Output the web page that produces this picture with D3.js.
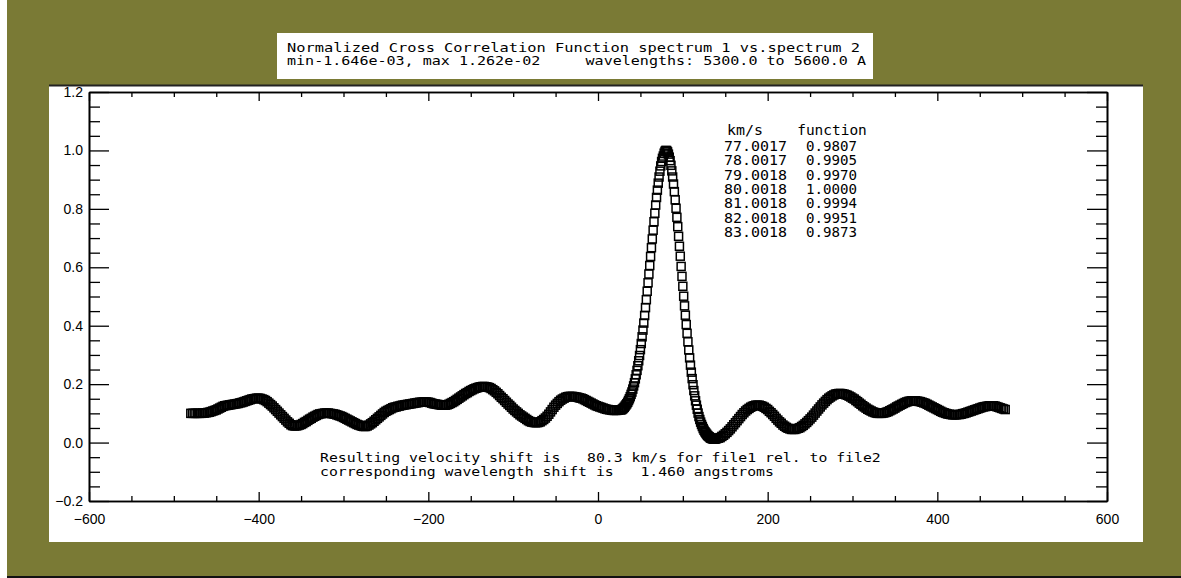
<!DOCTYPE html>
<html>
<head>
<meta charset="utf-8">
<script src="https://cdn.jsdelivr.net/npm/d3@7"></script>
<style>
  html, body { margin: 0; padding: 0; background: #ffffff; }
  svg { display: block; }
  .mono { font-family: "DejaVu Sans Mono", "Liberation Mono", monospace; }
  .mono text { white-space: pre; }
  .tick text { font-family: "Liberation Sans", Arial, sans-serif; font-size: 14px; fill: #000; }
</style>
</head>
<body>
<svg id="chart" width="1181" height="578"></svg>
<script>
// ---------------- data ----------------
const titleLines = [
  "Normalized Cross Correlation Function spectrum 1 vs.spectrum 2",
  "min-1.646e-03, max 1.262e-02     wavelengths: 5300.0 to 5600.0 A"
];
const resultLines = [
  "Resulting velocity shift is   80.3 km/s for file1 rel. to file2",
  "corresponding wavelength shift is   1.460 angstroms"
];
const tableHeader = ["km/s", "function"];
const tableVel = ["77.0017", "78.0017", "79.0018", "80.0018", "81.0018", "82.0018", "83.0018"];
const tableFunc = ["0.9807", "0.9905", "0.9970", "1.0000", "0.9994", "0.9951", "0.9873"];

const xMajorTicks = [-600, -400, -200, 0, 200, 400, 600];
const yMajorTicks = [-0.2, 0.0, 0.2, 0.4, 0.6, 0.8, 1.0, 1.2];

// velocity grid (km/s) of each segment: start, step
const leftStart = -480, leftStep = 2;
const peakStart = 27, peakStep = 1;
const rightStart = 142, rightStep = 2;

// correlation values
const leftValues = [
  0.100,0.100,0.100,0.100,0.100,0.100,0.100,0.101,0.101,0.102,
  0.103,0.104,0.106,0.108,0.110,0.112,0.115,0.118,0.121,0.124,
  0.126,0.127,0.128,0.129,0.130,0.131,0.132,0.133,0.134,0.136,
  0.137,0.139,0.141,0.143,0.145,0.147,0.149,0.150,0.151,0.152,
  0.152,0.151,0.149,0.147,0.144,0.140,0.135,0.130,0.125,0.119,
  0.113,0.107,0.101,0.095,0.089,0.083,0.077,0.071,0.066,0.061,
  0.058,0.057,0.057,0.058,0.060,0.062,0.065,0.069,0.072,0.076,
  0.080,0.083,0.087,0.090,0.093,0.096,0.098,0.099,0.100,0.101,
  0.101,0.101,0.100,0.099,0.098,0.097,0.095,0.093,0.091,0.089,
  0.086,0.083,0.080,0.077,0.074,0.071,0.068,0.065,0.062,0.060,
  0.058,0.056,0.055,0.055,0.057,0.060,0.064,0.068,0.073,0.078,
  0.083,0.088,0.093,0.098,0.103,0.107,0.110,0.113,0.116,0.119,
  0.121,0.122,0.124,0.125,0.127,0.128,0.129,0.130,0.131,0.132,
  0.133,0.134,0.135,0.136,0.137,0.138,0.138,0.139,0.139,0.139,
  0.138,0.137,0.135,0.133,0.132,0.131,0.130,0.129,0.128,0.128,
  0.128,0.129,0.131,0.134,0.137,0.140,0.144,0.148,0.152,0.156,
  0.160,0.164,0.168,0.171,0.175,0.178,0.181,0.184,0.186,0.188,
  0.190,0.191,0.192,0.192,0.191,0.190,0.188,0.185,0.181,0.177,
  0.172,0.167,0.161,0.155,0.150,0.144,0.138,0.132,0.127,0.121,
  0.115,0.110,0.105,0.100,0.095,0.091,0.087,0.083,0.079,0.075,
  0.072,0.070,0.069,0.068,0.068,0.069,0.071,0.075,0.079,0.084,
  0.090,0.097,0.105,0.113,0.121,0.128,0.134,0.140,0.145,0.149,
  0.152,0.155,0.157,0.158,0.158,0.158,0.157,0.156,0.155,0.153,
  0.152,0.150,0.147,0.144,0.141,0.138,0.135,0.132,0.129,0.126,
  0.124,0.122,0.120,0.118,0.116,0.114,0.113,0.112,0.111,0.110,
  0.110,0.110,0.111,0.112
];
const peakValues = [
  0.112,0.113,0.115,0.118,0.121,0.125,0.129,0.133,0.138,0.144,
  0.150,0.157,0.165,0.173,0.183,0.194,0.205,0.218,0.232,0.247,
  0.263,0.280,0.298,0.318,0.339,0.362,0.385,0.409,0.435,0.462,
  0.489,0.518,0.547,0.577,0.606,0.637,0.667,0.697,0.727,0.756,
  0.785,0.813,0.839,0.864,0.888,0.909,0.929,0.947,0.962,0.973,
  0.9807,0.9905,0.9970,1.0000,0.9994,0.9951,0.9873,0.977,0.965,0.949,
  0.930,0.909,0.885,0.859,0.831,0.802,0.771,0.739,0.706,0.672,
  0.638,0.603,0.569,0.535,0.501,0.468,0.436,0.404,0.374,0.345,
  0.317,0.290,0.265,0.241,0.219,0.198,0.178,0.160,0.143,0.128,
  0.114,0.101,0.089,0.079,0.070,0.062,0.055,0.048,0.042,0.037,
  0.033,0.029,0.025,0.022,0.020,0.017,0.015,0.014,0.013,0.012,
  0.012,0.012,0.013,0.014
];
const rightValues = [
  0.015,0.017,0.021,0.025,0.030,0.035,0.041,0.047,0.054,0.061,
  0.068,0.075,0.082,0.089,0.096,0.102,0.108,0.113,0.117,0.121,
  0.124,0.126,0.128,0.128,0.128,0.126,0.124,0.121,0.117,0.113,
  0.107,0.102,0.096,0.090,0.083,0.077,0.071,0.066,0.060,0.056,
  0.052,0.049,0.047,0.045,0.045,0.045,0.047,0.049,0.051,0.055,
  0.059,0.064,0.069,0.075,0.081,0.087,0.094,0.101,0.108,0.115,
  0.122,0.129,0.135,0.141,0.147,0.152,0.156,0.160,0.163,0.166,
  0.167,0.168,0.168,0.167,0.166,0.164,0.162,0.159,0.156,0.152,
  0.149,0.144,0.140,0.135,0.131,0.126,0.122,0.118,0.114,0.111,
  0.108,0.105,0.103,0.101,0.100,0.100,0.100,0.101,0.102,0.104,
  0.106,0.109,0.112,0.115,0.118,0.122,0.125,0.128,0.131,0.134,
  0.137,0.139,0.141,0.142,0.143,0.143,0.143,0.142,0.141,0.140,
  0.138,0.136,0.134,0.131,0.128,0.125,0.122,0.119,0.116,0.113,
  0.110,0.107,0.104,0.102,0.100,0.098,0.097,0.096,0.095,0.095,
  0.095,0.096,0.096,0.097,0.099,0.100,0.102,0.104,0.106,0.108,
  0.110,0.112,0.114,0.116,0.118,0.120,0.122,0.123,0.124,0.125,
  0.126,0.126,0.126,0.125,0.123,0.121,0.119,0.117,0.115,0.113
];

// ---------------- layout ----------------
const olive = "#7a7a35";
const svg = d3.select("#chart");
const W = 1181, H = 578;

svg.append("rect").attr("x", 0).attr("y", 0).attr("width", W).attr("height", H).attr("fill", "#ffffff");
svg.append("rect").attr("x", 7).attr("y", 0).attr("width", W - 7).attr("height", 576).attr("fill", olive);
svg.append("rect").attr("x", 7).attr("y", 576).attr("width", W - 7).attr("height", 2).attr("fill", "#111");

// white plot panel
svg.append("rect").attr("x", 49).attr("y", 85).attr("width", 1094).attr("height", 457).attr("fill", "#ffffff");
svg.append("line").attr("x1", 49).attr("x2", 1143).attr("y1", 85.5).attr("y2", 85.5)
  .attr("stroke", "#222").attr("stroke-width", 2);

// title box
svg.append("rect").attr("x", 277).attr("y", 33).attr("width", 596).attr("height", 46).attr("fill", "#ffffff");
const titleG = svg.append("g").attr("class", "mono");
const titleWidths = [573, 579];
titleLines.forEach((t, i) => {
  titleG.append("text")
    .attr("x", 287).attr("y", 52 + i * 13)
    .attr("font-size", 13)
    .attr("xml:space", "preserve")
    .style("white-space", "pre")
    .attr("textLength", titleWidths[i])
    .attr("lengthAdjust", "spacingAndGlyphs")
    .text(t);
});

// scales
const x = d3.scaleLinear().domain([-600, 600]).range([89, 1107]);
const y = d3.scaleLinear().domain([-0.2, 1.2]).range([501, 92]);

const xMinor = d3.range(-600, 601, 50).filter(v => !xMajorTicks.includes(v));
const yMinor = d3.range(-0.2, 1.2001, 0.05).map(v => +v.toFixed(2))
  .filter(v => !yMajorTicks.some(m => Math.abs(m - v) < 1e-6));

const fmtY = d3.format(".1f");
const axG = svg.append("g");

// bottom axis
axG.append("g").attr("transform", `translate(0,${y(-0.2)})`)
  .call(d3.axisBottom(x).tickValues(xMajorTicks).tickSizeInner(-9).tickSizeOuter(0).tickPadding(13));
axG.append("g").attr("transform", `translate(0,${y(-0.2)})`)
  .call(d3.axisBottom(x).tickValues(xMinor).tickSizeInner(-5).tickSizeOuter(0).tickFormat(""));
// top axis
axG.append("g").attr("transform", `translate(0,${y(1.2)})`)
  .call(d3.axisTop(x).tickValues(xMajorTicks).tickSizeInner(-9).tickSizeOuter(0).tickFormat(""));
axG.append("g").attr("transform", `translate(0,${y(1.2)})`)
  .call(d3.axisTop(x).tickValues(xMinor).tickSizeInner(-5).tickSizeOuter(0).tickFormat(""));
// left axis
axG.append("g").attr("transform", `translate(${x(-600)},0)`)
  .call(d3.axisLeft(y).tickValues(yMajorTicks).tickSizeInner(-20).tickSizeOuter(0).tickPadding(6).tickFormat(fmtY));
axG.append("g").attr("transform", `translate(${x(-600)},0)`)
  .call(d3.axisLeft(y).tickValues(yMinor).tickSizeInner(-11).tickSizeOuter(0).tickFormat(""));
// right axis
axG.append("g").attr("transform", `translate(${x(600)},0)`)
  .call(d3.axisRight(y).tickValues(yMajorTicks).tickSizeInner(-20).tickSizeOuter(0).tickFormat(""));
axG.append("g").attr("transform", `translate(${x(600)},0)`)
  .call(d3.axisRight(y).tickValues(yMinor).tickSizeInner(-11).tickSizeOuter(0).tickFormat(""));

axG.selectAll(".domain").attr("stroke", "#000").attr("stroke-width", 1.6);
axG.selectAll(".tick line").attr("stroke", "#000").attr("stroke-width", 1.3);

// ---------------- data points ----------------
const points = [];
leftValues.forEach((v, i) => points.push({ v: leftStart + i * leftStep, f: v }));
peakValues.forEach((v, i) => points.push({ v: peakStart + i * peakStep, f: v }));
rightValues.forEach((v, i) => points.push({ v: rightStart + i * rightStep, f: v }));

const s = 8;
svg.append("g").selectAll("rect.pt").data(points).join("rect")
  .attr("class", "pt")
  .attr("x", d => x(d.v) - s / 2)
  .attr("y", d => y(d.f) - s / 2)
  .attr("width", s).attr("height", s)
  .attr("fill", "none").attr("stroke", "#000").attr("stroke-width", 1.5);

// ---------------- table ----------------
const tab = svg.append("g").attr("class", "mono").attr("font-size", 14);
tab.append("text").attr("x", 745).attr("y", 135).attr("text-anchor", "middle")
  .attr("textLength", tableHeader[0].length * 9).attr("lengthAdjust", "spacingAndGlyphs").text(tableHeader[0]);
tab.append("text").attr("x", 832).attr("y", 135).attr("text-anchor", "middle")
  .attr("textLength", tableHeader[1].length * 8.7).attr("lengthAdjust", "spacingAndGlyphs").text(tableHeader[1]);
tableVel.forEach((t, i) => {
  tab.append("text").attr("x", 724).attr("y", 151 + i * 14.3)
    .attr("textLength", t.length * 9).attr("lengthAdjust", "spacingAndGlyphs").text(t);
  tab.append("text").attr("x", 806).attr("y", 151 + i * 14.3)
    .attr("textLength", tableFunc[i].length * 8.5).attr("lengthAdjust", "spacingAndGlyphs").text(tableFunc[i]);
});

// ---------------- result text ----------------
const res = svg.append("g").attr("class", "mono").attr("font-size", 13);
resultLines.forEach((t, i) => {
  res.append("text").attr("x", 320).attr("y", 462 + i * 14)
    .attr("xml:space", "preserve")
    .style("white-space", "pre")
    .attr("textLength", t.length * 8.9).attr("lengthAdjust", "spacingAndGlyphs")
    .text(t);
});
</script>
</body>
</html>
